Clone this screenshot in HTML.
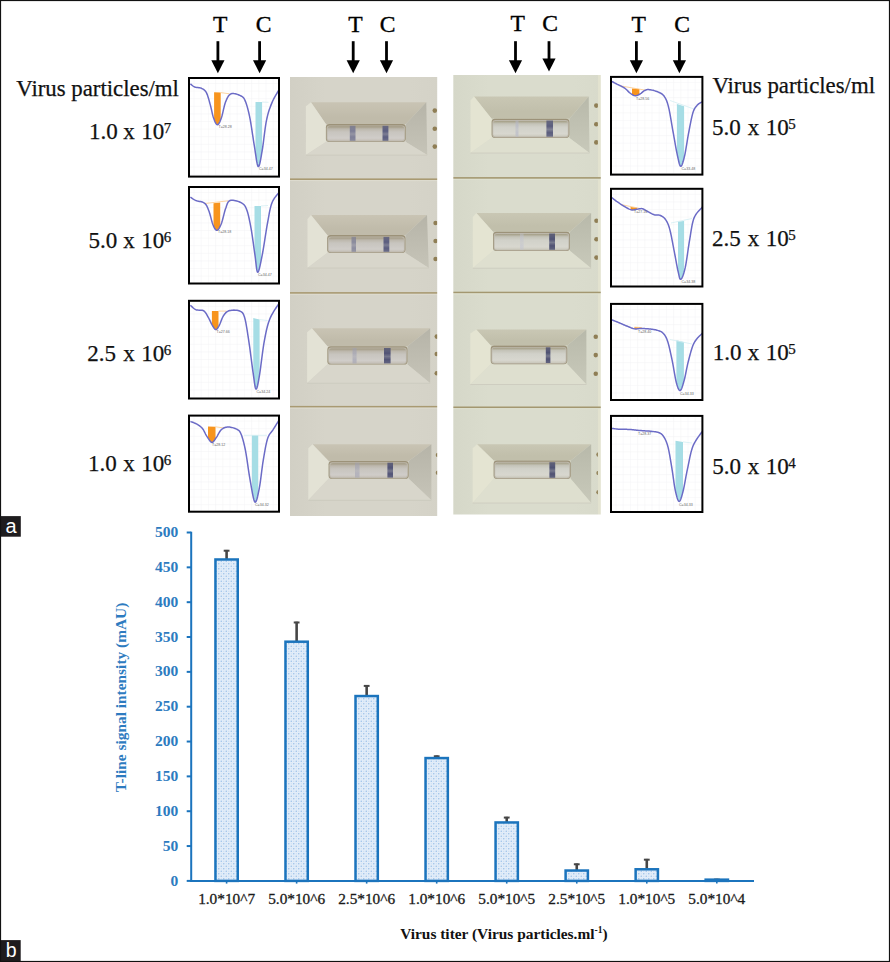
<!DOCTYPE html>
<html><head><meta charset="utf-8"><style>
html,body{margin:0;padding:0;background:#fff;}
body{width:890px;height:962px;overflow:hidden;font-family:"Liberation Serif",serif;}
svg{display:block;}
</style></head><body>
<svg width="890" height="962" viewBox="0 0 890 962" font-family="Liberation Serif">
<defs><filter id="soft" x="-5%" y="-5%" width="110%" height="110%"><feGaussianBlur stdDeviation="0.55"/></filter></defs>
<rect width="890" height="962" fill="#fff"/>
<clipPath id="colclip1"><rect x="290" y="77" width="147.2" height="439"/></clipPath>
<linearGradient id="body1" x1="0" y1="0" x2="1" y2="0"><stop offset="0" stop-color="#d1cfc4"/><stop offset="0.25" stop-color="#d6d4c9"/><stop offset="0.8" stop-color="#d6d4c9"/><stop offset="1" stop-color="#d4d2c7"/></linearGradient>
<g clip-path="url(#colclip1)"><g filter="url(#soft)">
<rect x="287" y="74" width="153.2" height="445" fill="url(#body1)"/>
<linearGradient id="g1_0t" x1="0" y1="0" x2="0" y2="1"><stop offset="0" stop-color="#c9c4b4"/><stop offset="0.7" stop-color="#c0bbaa"/><stop offset="1" stop-color="#c0bbaa"/></linearGradient>
<linearGradient id="g1_0r" x1="0" y1="0" x2="0" y2="1"><stop offset="0" stop-color="#b6b4a8"/><stop offset="1" stop-color="#c6c4b8"/></linearGradient>
<polygon points="311,102.2 426.3,102.2 405.8,124 325.9,124" fill="url(#g1_0t)"/>
<polygon points="305.9,106.2 311,102.2 325.9,124 325.9,142 305.9,155.1" fill="#e3e2d5"/>
<polygon points="426.3,102.2 427.2,155.1 405.8,142 405.8,124" fill="url(#g1_0r)"/>
<polygon points="305.9,155.1 325.9,142 405.8,142 427.2,155.1" fill="#d8d6cb"/>
<line x1="305.9" y1="155.1" x2="427.2" y2="155.1" stroke="#c9c7bb" stroke-width="1" opacity="0.7"/>
<rect x="325.9" y="124" width="79.9" height="18" rx="3.4" fill="#9c9279"/>
<rect x="326.6" y="125.4" width="78.5" height="16.1" rx="3" fill="#bdb8ab"/>
<linearGradient id="g1_0w" x1="0" y1="0" x2="0" y2="1"><stop offset="0" stop-color="#a0977f"/><stop offset="0.18" stop-color="#bcb7ac"/><stop offset="0.4" stop-color="#c8c5bf"/><stop offset="0.6" stop-color="#cbc8c3"/><stop offset="0.82" stop-color="#d0cdc9"/><stop offset="1" stop-color="#c4bfb6"/></linearGradient>
<rect x="327.5" y="126.3" width="76.7" height="14.4" rx="2.4" fill="url(#g1_0w)"/>
<linearGradient id="g1_0T" x1="0" y1="0" x2="0" y2="1"><stop offset="0" stop-color="#70728f" stop-opacity="0.68"/><stop offset="0.35" stop-color="#70728f" stop-opacity="0.85"/><stop offset="0.55" stop-color="#70728f" stop-opacity="0.595"/><stop offset="0.75" stop-color="#70728f" stop-opacity="0.85"/><stop offset="1" stop-color="#70728f" stop-opacity="0.7224999999999999"/></linearGradient>
<rect x="349.8" y="125.8" width="5.7" height="15" fill="url(#g1_0T)"/>
<linearGradient id="g1_0C" x1="0" y1="0" x2="0" y2="1"><stop offset="0" stop-color="#55587c" stop-opacity="0.76"/><stop offset="0.35" stop-color="#55587c" stop-opacity="0.95"/><stop offset="0.55" stop-color="#55587c" stop-opacity="0.6649999999999999"/><stop offset="0.75" stop-color="#55587c" stop-opacity="0.95"/><stop offset="1" stop-color="#55587c" stop-opacity="0.8075"/></linearGradient>
<rect x="382.5" y="125.8" width="5.9" height="15" fill="url(#g1_0C)"/>
<circle cx="434.8" cy="110.6" r="2.3" fill="#8f7e55"/>
<circle cx="434.8" cy="128.8" r="2.3" fill="#8f7e55"/>
<circle cx="434.8" cy="146.6" r="2.3" fill="#8f7e55"/>
<linearGradient id="g1_1t" x1="0" y1="0" x2="0" y2="1"><stop offset="0" stop-color="#c9c4b4"/><stop offset="0.7" stop-color="#c0bbaa"/><stop offset="1" stop-color="#c0bbaa"/></linearGradient>
<linearGradient id="g1_1r" x1="0" y1="0" x2="0" y2="1"><stop offset="0" stop-color="#b6b4a8"/><stop offset="1" stop-color="#c6c4b8"/></linearGradient>
<polygon points="311,215 427,215 405.5,235.1 327.2,235.1" fill="url(#g1_1t)"/>
<polygon points="307.5,219 311,215 327.2,235.1 327.2,253 307.5,268" fill="#e3e2d5"/>
<polygon points="427,215 428.8,268 405.5,253 405.5,235.1" fill="url(#g1_1r)"/>
<polygon points="307.5,268 327.2,253 405.5,253 428.8,268" fill="#d8d6cb"/>
<line x1="307.5" y1="268" x2="428.8" y2="268" stroke="#c9c7bb" stroke-width="1" opacity="0.7"/>
<rect x="327.2" y="235.1" width="78.3" height="17.9" rx="3.4" fill="#9c9279"/>
<rect x="327.9" y="236.5" width="76.9" height="16" rx="3" fill="#bdb8ab"/>
<linearGradient id="g1_1w" x1="0" y1="0" x2="0" y2="1"><stop offset="0" stop-color="#a0977f"/><stop offset="0.18" stop-color="#bcb7ac"/><stop offset="0.4" stop-color="#c8c5bf"/><stop offset="0.6" stop-color="#cbc8c3"/><stop offset="0.82" stop-color="#d0cdc9"/><stop offset="1" stop-color="#c4bfb6"/></linearGradient>
<rect x="328.8" y="237.4" width="75.1" height="14.3" rx="2.4" fill="url(#g1_1w)"/>
<linearGradient id="g1_1T" x1="0" y1="0" x2="0" y2="1"><stop offset="0" stop-color="#777993" stop-opacity="0.6000000000000001"/><stop offset="0.35" stop-color="#777993" stop-opacity="0.75"/><stop offset="0.55" stop-color="#777993" stop-opacity="0.5249999999999999"/><stop offset="0.75" stop-color="#777993" stop-opacity="0.75"/><stop offset="1" stop-color="#777993" stop-opacity="0.6375"/></linearGradient>
<rect x="351.5" y="236.9" width="4.5" height="14.9" fill="url(#g1_1T)"/>
<linearGradient id="g1_1C" x1="0" y1="0" x2="0" y2="1"><stop offset="0" stop-color="#55587c" stop-opacity="0.76"/><stop offset="0.35" stop-color="#55587c" stop-opacity="0.95"/><stop offset="0.55" stop-color="#55587c" stop-opacity="0.6649999999999999"/><stop offset="0.75" stop-color="#55587c" stop-opacity="0.95"/><stop offset="1" stop-color="#55587c" stop-opacity="0.8075"/></linearGradient>
<rect x="383.5" y="236.9" width="5.8" height="14.9" fill="url(#g1_1C)"/>
<circle cx="435.6" cy="223" r="2.3" fill="#8f7e55"/>
<circle cx="435.6" cy="241" r="2.3" fill="#8f7e55"/>
<circle cx="435.6" cy="259" r="2.3" fill="#8f7e55"/>
<linearGradient id="g1_2t" x1="0" y1="0" x2="0" y2="1"><stop offset="0" stop-color="#c9c4b4"/><stop offset="0.7" stop-color="#c0bbaa"/><stop offset="1" stop-color="#c0bbaa"/></linearGradient>
<linearGradient id="g1_2r" x1="0" y1="0" x2="0" y2="1"><stop offset="0" stop-color="#b6b4a8"/><stop offset="1" stop-color="#c6c4b8"/></linearGradient>
<polygon points="311.9,328.2 430.2,328.2 407.5,346.2 327.4,346.2" fill="url(#g1_2t)"/>
<polygon points="307.1,332.2 311.9,328.2 327.4,346.2 327.4,364.6 307.1,383.2" fill="#e3e2d5"/>
<polygon points="430.2,328.2 430.2,383.2 407.5,364.6 407.5,346.2" fill="url(#g1_2r)"/>
<polygon points="307.1,383.2 327.4,364.6 407.5,364.6 430.2,383.2" fill="#d8d6cb"/>
<line x1="307.1" y1="383.2" x2="430.2" y2="383.2" stroke="#c9c7bb" stroke-width="1" opacity="0.7"/>
<rect x="327.4" y="346.2" width="80.1" height="18.4" rx="3.4" fill="#9c9279"/>
<rect x="328.1" y="347.6" width="78.7" height="16.5" rx="3" fill="#bdb8ab"/>
<linearGradient id="g1_2w" x1="0" y1="0" x2="0" y2="1"><stop offset="0" stop-color="#a0977f"/><stop offset="0.18" stop-color="#bcb7ac"/><stop offset="0.4" stop-color="#c8c5bf"/><stop offset="0.6" stop-color="#cbc8c3"/><stop offset="0.82" stop-color="#d0cdc9"/><stop offset="1" stop-color="#c4bfb6"/></linearGradient>
<rect x="329" y="348.5" width="76.9" height="14.8" rx="2.4" fill="url(#g1_2w)"/>
<linearGradient id="g1_2T" x1="0" y1="0" x2="0" y2="1"><stop offset="0" stop-color="#9e9fb3" stop-opacity="0.48"/><stop offset="0.35" stop-color="#9e9fb3" stop-opacity="0.6"/><stop offset="0.55" stop-color="#9e9fb3" stop-opacity="0.42"/><stop offset="0.75" stop-color="#9e9fb3" stop-opacity="0.6"/><stop offset="1" stop-color="#9e9fb3" stop-opacity="0.51"/></linearGradient>
<rect x="352.5" y="348" width="4.1" height="15.4" fill="url(#g1_2T)"/>
<linearGradient id="g1_2C" x1="0" y1="0" x2="0" y2="1"><stop offset="0" stop-color="#4b4e72" stop-opacity="0.76"/><stop offset="0.35" stop-color="#4b4e72" stop-opacity="0.95"/><stop offset="0.55" stop-color="#4b4e72" stop-opacity="0.6649999999999999"/><stop offset="0.75" stop-color="#4b4e72" stop-opacity="0.95"/><stop offset="1" stop-color="#4b4e72" stop-opacity="0.8075"/></linearGradient>
<rect x="384" y="348" width="6.6" height="15.4" fill="url(#g1_2C)"/>
<circle cx="436.8" cy="336.6" r="2.3" fill="#8f7e55"/>
<circle cx="436.8" cy="354" r="2.3" fill="#8f7e55"/>
<circle cx="436.8" cy="373.2" r="2.3" fill="#8f7e55"/>
<linearGradient id="g1_3t" x1="0" y1="0" x2="0" y2="1"><stop offset="0" stop-color="#c9c4b4"/><stop offset="0.7" stop-color="#c0bbaa"/><stop offset="1" stop-color="#c0bbaa"/></linearGradient>
<linearGradient id="g1_3r" x1="0" y1="0" x2="0" y2="1"><stop offset="0" stop-color="#b6b4a8"/><stop offset="1" stop-color="#c6c4b8"/></linearGradient>
<polygon points="312.5,444.2 431.4,444.2 408.7,460.9 328.6,460.9" fill="url(#g1_3t)"/>
<polygon points="308.3,448.2 312.5,444.2 328.6,460.9 328.6,478.8 308.3,500.3" fill="#e3e2d5"/>
<polygon points="431.4,444.2 431.4,500.3 408.7,478.8 408.7,460.9" fill="url(#g1_3r)"/>
<polygon points="308.3,500.3 328.6,478.8 408.7,478.8 431.4,500.3" fill="#d8d6cb"/>
<line x1="308.3" y1="500.3" x2="431.4" y2="500.3" stroke="#c9c7bb" stroke-width="1" opacity="0.7"/>
<rect x="328.6" y="460.9" width="80.1" height="17.9" rx="3.4" fill="#9c9279"/>
<rect x="329.3" y="462.3" width="78.7" height="16" rx="3" fill="#bdb8ab"/>
<linearGradient id="g1_3w" x1="0" y1="0" x2="0" y2="1"><stop offset="0" stop-color="#a0977f"/><stop offset="0.18" stop-color="#bcb7ac"/><stop offset="0.4" stop-color="#c8c5bf"/><stop offset="0.6" stop-color="#cbc8c3"/><stop offset="0.82" stop-color="#d0cdc9"/><stop offset="1" stop-color="#c4bfb6"/></linearGradient>
<rect x="330.2" y="463.2" width="76.9" height="14.3" rx="2.4" fill="url(#g1_3w)"/>
<linearGradient id="g1_3T" x1="0" y1="0" x2="0" y2="1"><stop offset="0" stop-color="#9e9fb3" stop-opacity="0.44000000000000006"/><stop offset="0.35" stop-color="#9e9fb3" stop-opacity="0.55"/><stop offset="0.55" stop-color="#9e9fb3" stop-opacity="0.385"/><stop offset="0.75" stop-color="#9e9fb3" stop-opacity="0.55"/><stop offset="1" stop-color="#9e9fb3" stop-opacity="0.4675"/></linearGradient>
<rect x="355" y="462.7" width="4.5" height="14.9" fill="url(#g1_3T)"/>
<linearGradient id="g1_3C" x1="0" y1="0" x2="0" y2="1"><stop offset="0" stop-color="#4b4e72" stop-opacity="0.76"/><stop offset="0.35" stop-color="#4b4e72" stop-opacity="0.95"/><stop offset="0.55" stop-color="#4b4e72" stop-opacity="0.6649999999999999"/><stop offset="0.75" stop-color="#4b4e72" stop-opacity="0.95"/><stop offset="1" stop-color="#4b4e72" stop-opacity="0.8075"/></linearGradient>
<rect x="387.4" y="462.7" width="5.6" height="14.9" fill="url(#g1_3C)"/>
<circle cx="438" cy="455" r="2.3" fill="#8f7e55"/>
<circle cx="438" cy="472.8" r="2.3" fill="#8f7e55"/>
<rect x="287" y="178.4" width="153.2" height="1.8" fill="#a99a72"/>
<rect x="287" y="180.05" width="153.2" height="1" fill="#dedcd0"/>
<rect x="287" y="292.1" width="153.2" height="1.8" fill="#a99a72"/>
<rect x="287" y="293.75" width="153.2" height="1" fill="#dedcd0"/>
<rect x="287" y="405.9" width="153.2" height="1.8" fill="#a99a72"/>
<rect x="287" y="407.55" width="153.2" height="1" fill="#dedcd0"/>
</g></g>
<clipPath id="colclip2"><rect x="453.3" y="75" width="147.5" height="439.5"/></clipPath>
<linearGradient id="body2" x1="0" y1="0" x2="1" y2="0"><stop offset="0" stop-color="#d5d7c8"/><stop offset="0.25" stop-color="#dadccd"/><stop offset="0.8" stop-color="#dadccd"/><stop offset="1" stop-color="#d8dacb"/></linearGradient>
<g clip-path="url(#colclip2)"><g filter="url(#soft)">
<rect x="450.3" y="72" width="153.5" height="445.5" fill="url(#body2)"/>
<linearGradient id="g2_0t" x1="0" y1="0" x2="0" y2="1"><stop offset="0" stop-color="#c9c7b4"/><stop offset="0.7" stop-color="#c1bfab"/><stop offset="1" stop-color="#c1bfab"/></linearGradient>
<linearGradient id="g2_0r" x1="0" y1="0" x2="0" y2="1"><stop offset="0" stop-color="#b8b9aa"/><stop offset="1" stop-color="#c8c9ba"/></linearGradient>
<polygon points="474,96.4 588.7,96.4 569.4,118.7 491.6,118.7" fill="url(#g2_0t)"/>
<polygon points="470.5,100.4 474,96.4 491.6,118.7 491.6,137.9 470.5,153" fill="#e4e4d2"/>
<polygon points="588.7,96.4 589.5,153 569.4,137.9 569.4,118.7" fill="url(#g2_0r)"/>
<polygon points="470.5,153 491.6,137.9 569.4,137.9 589.5,153" fill="#dedfcf"/>
<line x1="470.5" y1="153" x2="589.5" y2="153" stroke="#c9c7bb" stroke-width="1" opacity="0.7"/>
<rect x="491.6" y="118.7" width="77.8" height="19.2" rx="3.4" fill="#9c9279"/>
<rect x="492.3" y="120.1" width="76.4" height="17.3" rx="3" fill="#bdb8ab"/>
<linearGradient id="g2_0w" x1="0" y1="0" x2="0" y2="1"><stop offset="0" stop-color="#a39d84"/><stop offset="0.18" stop-color="#c4c3b8"/><stop offset="0.4" stop-color="#d1d1c9"/><stop offset="0.6" stop-color="#d4d4cc"/><stop offset="0.82" stop-color="#d8d7cf"/><stop offset="1" stop-color="#cac8bc"/></linearGradient>
<rect x="493.2" y="121" width="74.6" height="15.6" rx="2.4" fill="url(#g2_0w)"/>
<linearGradient id="g2_0T" x1="0" y1="0" x2="0" y2="1"><stop offset="0" stop-color="#b4b7c8" stop-opacity="0.48"/><stop offset="0.35" stop-color="#b4b7c8" stop-opacity="0.6"/><stop offset="0.55" stop-color="#b4b7c8" stop-opacity="0.42"/><stop offset="0.75" stop-color="#b4b7c8" stop-opacity="0.6"/><stop offset="1" stop-color="#b4b7c8" stop-opacity="0.51"/></linearGradient>
<rect x="515.5" y="120.5" width="3" height="16.2" fill="url(#g2_0T)"/>
<linearGradient id="g2_0C" x1="0" y1="0" x2="0" y2="1"><stop offset="0" stop-color="#505376" stop-opacity="0.7360000000000001"/><stop offset="0.35" stop-color="#505376" stop-opacity="0.92"/><stop offset="0.55" stop-color="#505376" stop-opacity="0.644"/><stop offset="0.75" stop-color="#505376" stop-opacity="0.92"/><stop offset="1" stop-color="#505376" stop-opacity="0.782"/></linearGradient>
<rect x="546.4" y="120.5" width="6.6" height="16.2" fill="url(#g2_0C)"/>
<circle cx="596.3" cy="105.6" r="2.3" fill="#8f7e55"/>
<circle cx="596.3" cy="124.2" r="2.3" fill="#8f7e55"/>
<circle cx="596.3" cy="142.4" r="2.3" fill="#8f7e55"/>
<linearGradient id="g2_1t" x1="0" y1="0" x2="0" y2="1"><stop offset="0" stop-color="#c9c7b4"/><stop offset="0.7" stop-color="#c1bfab"/><stop offset="1" stop-color="#c1bfab"/></linearGradient>
<linearGradient id="g2_1r" x1="0" y1="0" x2="0" y2="1"><stop offset="0" stop-color="#b8b9aa"/><stop offset="1" stop-color="#c8c9ba"/></linearGradient>
<polygon points="476.3,212.9 591.1,212.9 570,231.7 493,231.7" fill="url(#g2_1t)"/>
<polygon points="472.8,216.9 476.3,212.9 493,231.7 493,251 472.8,268.2" fill="#e4e4d2"/>
<polygon points="591.1,212.9 591.1,268.2 570,251 570,231.7" fill="url(#g2_1r)"/>
<polygon points="472.8,268.2 493,251 570,251 591.1,268.2" fill="#dedfcf"/>
<line x1="472.8" y1="268.2" x2="591.1" y2="268.2" stroke="#c9c7bb" stroke-width="1" opacity="0.7"/>
<rect x="493" y="231.7" width="77" height="19.3" rx="3.4" fill="#9c9279"/>
<rect x="493.7" y="233.1" width="75.6" height="17.4" rx="3" fill="#bdb8ab"/>
<linearGradient id="g2_1w" x1="0" y1="0" x2="0" y2="1"><stop offset="0" stop-color="#a39d84"/><stop offset="0.18" stop-color="#c4c3b8"/><stop offset="0.4" stop-color="#d1d1c9"/><stop offset="0.6" stop-color="#d4d4cc"/><stop offset="0.82" stop-color="#d8d7cf"/><stop offset="1" stop-color="#cac8bc"/></linearGradient>
<rect x="494.6" y="234" width="73.8" height="15.7" rx="2.4" fill="url(#g2_1w)"/>
<linearGradient id="g2_1T" x1="0" y1="0" x2="0" y2="1"><stop offset="0" stop-color="#c0c2d0" stop-opacity="0.4"/><stop offset="0.35" stop-color="#c0c2d0" stop-opacity="0.5"/><stop offset="0.55" stop-color="#c0c2d0" stop-opacity="0.35"/><stop offset="0.75" stop-color="#c0c2d0" stop-opacity="0.5"/><stop offset="1" stop-color="#c0c2d0" stop-opacity="0.425"/></linearGradient>
<rect x="520" y="233.5" width="3.6" height="16.3" fill="url(#g2_1T)"/>
<linearGradient id="g2_1C" x1="0" y1="0" x2="0" y2="1"><stop offset="0" stop-color="#484b6e" stop-opacity="0.76"/><stop offset="0.35" stop-color="#484b6e" stop-opacity="0.95"/><stop offset="0.55" stop-color="#484b6e" stop-opacity="0.6649999999999999"/><stop offset="0.75" stop-color="#484b6e" stop-opacity="0.95"/><stop offset="1" stop-color="#484b6e" stop-opacity="0.8075"/></linearGradient>
<rect x="549.2" y="233.5" width="5.8" height="16.3" fill="url(#g2_1C)"/>
<circle cx="596.5" cy="220.8" r="2.3" fill="#8f7e55"/>
<circle cx="596.5" cy="239.2" r="2.3" fill="#8f7e55"/>
<circle cx="596.5" cy="257.6" r="2.3" fill="#8f7e55"/>
<linearGradient id="g2_2t" x1="0" y1="0" x2="0" y2="1"><stop offset="0" stop-color="#c9c7b4"/><stop offset="0.7" stop-color="#c1bfab"/><stop offset="1" stop-color="#c1bfab"/></linearGradient>
<linearGradient id="g2_2r" x1="0" y1="0" x2="0" y2="1"><stop offset="0" stop-color="#b8b9aa"/><stop offset="1" stop-color="#c8c9ba"/></linearGradient>
<polygon points="476.3,329.5 586.4,329.5 567.3,345.5 490.7,345.5" fill="url(#g2_2t)"/>
<polygon points="470.3,333.5 476.3,329.5 490.7,345.5 490.7,364.2 470.3,384.5" fill="#e4e4d2"/>
<polygon points="586.4,329.5 586.4,384.5 567.3,364.2 567.3,345.5" fill="url(#g2_2r)"/>
<polygon points="470.3,384.5 490.7,364.2 567.3,364.2 586.4,384.5" fill="#dedfcf"/>
<line x1="470.3" y1="384.5" x2="586.4" y2="384.5" stroke="#c9c7bb" stroke-width="1" opacity="0.7"/>
<rect x="490.7" y="345.5" width="76.6" height="18.7" rx="3.4" fill="#9c9279"/>
<rect x="491.4" y="346.9" width="75.2" height="16.8" rx="3" fill="#bdb8ab"/>
<linearGradient id="g2_2w" x1="0" y1="0" x2="0" y2="1"><stop offset="0" stop-color="#a39d84"/><stop offset="0.18" stop-color="#c4c3b8"/><stop offset="0.4" stop-color="#d1d1c9"/><stop offset="0.6" stop-color="#d4d4cc"/><stop offset="0.82" stop-color="#d8d7cf"/><stop offset="1" stop-color="#cac8bc"/></linearGradient>
<rect x="492.3" y="347.8" width="73.4" height="15.1" rx="2.4" fill="url(#g2_2w)"/>
<linearGradient id="g2_2C" x1="0" y1="0" x2="0" y2="1"><stop offset="0" stop-color="#484b6e" stop-opacity="0.76"/><stop offset="0.35" stop-color="#484b6e" stop-opacity="0.95"/><stop offset="0.55" stop-color="#484b6e" stop-opacity="0.6649999999999999"/><stop offset="0.75" stop-color="#484b6e" stop-opacity="0.95"/><stop offset="1" stop-color="#484b6e" stop-opacity="0.8075"/></linearGradient>
<rect x="545.8" y="347.3" width="4.6" height="15.7" fill="url(#g2_2C)"/>
<circle cx="595.8" cy="336.7" r="2.3" fill="#8f7e55"/>
<circle cx="595.8" cy="355.1" r="2.3" fill="#8f7e55"/>
<circle cx="595.8" cy="373.8" r="2.3" fill="#8f7e55"/>
<linearGradient id="g2_3t" x1="0" y1="0" x2="0" y2="1"><stop offset="0" stop-color="#c9c7b4"/><stop offset="0.7" stop-color="#c1bfab"/><stop offset="1" stop-color="#c1bfab"/></linearGradient>
<linearGradient id="g2_3r" x1="0" y1="0" x2="0" y2="1"><stop offset="0" stop-color="#b8b9aa"/><stop offset="1" stop-color="#c8c9ba"/></linearGradient>
<polygon points="477,444.3 591.2,444.3 570.8,460.4 493.6,460.4" fill="url(#g2_3t)"/>
<polygon points="472.7,448.3 477,444.3 493.6,460.4 493.6,479 472.7,503" fill="#e4e4d2"/>
<polygon points="591.2,444.3 591.2,503 570.8,479 570.8,460.4" fill="url(#g2_3r)"/>
<polygon points="472.7,503 493.6,479 570.8,479 591.2,503" fill="#dedfcf"/>
<line x1="472.7" y1="503" x2="591.2" y2="503" stroke="#c9c7bb" stroke-width="1" opacity="0.7"/>
<rect x="493.6" y="460.4" width="77.2" height="18.6" rx="3.4" fill="#9c9279"/>
<rect x="494.3" y="461.8" width="75.8" height="16.7" rx="3" fill="#bdb8ab"/>
<linearGradient id="g2_3w" x1="0" y1="0" x2="0" y2="1"><stop offset="0" stop-color="#a39d84"/><stop offset="0.18" stop-color="#c4c3b8"/><stop offset="0.4" stop-color="#d1d1c9"/><stop offset="0.6" stop-color="#d4d4cc"/><stop offset="0.82" stop-color="#d8d7cf"/><stop offset="1" stop-color="#cac8bc"/></linearGradient>
<rect x="495.2" y="462.7" width="74" height="15" rx="2.4" fill="url(#g2_3w)"/>
<linearGradient id="g2_3C" x1="0" y1="0" x2="0" y2="1"><stop offset="0" stop-color="#484b6e" stop-opacity="0.76"/><stop offset="0.35" stop-color="#484b6e" stop-opacity="0.95"/><stop offset="0.55" stop-color="#484b6e" stop-opacity="0.6649999999999999"/><stop offset="0.75" stop-color="#484b6e" stop-opacity="0.95"/><stop offset="1" stop-color="#484b6e" stop-opacity="0.8075"/></linearGradient>
<rect x="549.4" y="462.2" width="5.8" height="15.6" fill="url(#g2_3C)"/>
<circle cx="598.6" cy="454.6" r="2.3" fill="#8f7e55"/>
<circle cx="598.6" cy="473" r="2.3" fill="#8f7e55"/>
<circle cx="598.6" cy="492.2" r="2.3" fill="#8f7e55"/>
<rect x="597.9" y="72" width="4" height="445.5" fill="#e2e2cf"/>
<rect x="450.3" y="177.1" width="153.5" height="1.8" fill="#a3976f"/>
<rect x="450.3" y="178.75" width="153.5" height="1" fill="#e0e2d2"/>
<rect x="450.3" y="291.7" width="153.5" height="1.8" fill="#a3976f"/>
<rect x="450.3" y="293.35" width="153.5" height="1" fill="#e0e2d2"/>
<rect x="450.3" y="406.5" width="153.5" height="1.8" fill="#a3976f"/>
<rect x="450.3" y="408.15" width="153.5" height="1" fill="#e0e2d2"/>
</g></g>
<clipPath id="c1957"><rect x="189" y="78" width="90" height="98.6"/></clipPath>
<rect x="188" y="77" width="92" height="100.6" fill="#fff"/>
<g clip-path="url(#c1957)">
<path d="M194 79V175.6M201.2 79V175.6M208.4 79V175.6M215.6 79V175.6M222.8 79V175.6M230 79V175.6M237.2 79V175.6M244.4 79V175.6M251.6 79V175.6M258.8 79V175.6M266 79V175.6M273.2 79V175.6M190 83.5H278M190 91.1H278M190 98.7H278M190 106.3H278M190 113.9H278M190 121.5H278M190 129.1H278M190 136.7H278M190 144.3H278M190 151.9H278M190 159.5H278M190 167.1H278M190 174.7H278" stroke="#f2f2f5" stroke-width="0.5" fill="none"/>
<polygon points="214.1,92.2 220.7,92.6 220.7,119.71 220.15,121.08 219.6,122.28 219.05,123.28 218.5,124.05 217.95,124.52 217.4,124.7 216.85,124.49 216.3,123.97 215.75,123.15 215.2,122.1 214.65,120.86 214.1,119.46" fill="#f7941d"/>
<line x1="220.7" y1="92.6" x2="229.5" y2="93.8" stroke="#fbc98a" stroke-width="0.8"/>
<polygon points="255.5,102.1 262.1,102.1 262.1,151.1 261.69,153.45 261.28,155.84 260.86,158.19 260.45,160.42 260.04,162.44 259.62,164.16 259.21,165.47 258.8,166.31 258.39,166.6 257.98,166.26 257.56,165.25 257.15,163.64 256.74,161.53 256.32,159.06 255.91,156.33 255.5,153.48" fill="#a6dde5"/>
<line x1="262.1" y1="102.1" x2="268.5" y2="102.3" stroke="#d4eef2" stroke-width="0.8"/>
<polyline points="190.4,83.9 190.65,84.09 190.96,84.35 191.33,84.66 191.74,85 192.19,85.37 192.67,85.74 193.18,86.1 193.71,86.45 194.25,86.75 194.8,87 195.38,87.19 196,87.33 196.67,87.42 197.36,87.5 198.06,87.57 198.77,87.64 199.47,87.74 200.15,87.87 200.79,88.05 201.4,88.3 201.97,88.58 202.52,88.86 203.05,89.15 203.57,89.46 204.07,89.82 204.56,90.23 205.03,90.71 205.5,91.27 205.95,91.93 206.4,92.7 206.84,93.6 207.26,94.62 207.67,95.76 208.07,96.97 208.46,98.25 208.84,99.57 209.21,100.92 209.58,102.27 209.94,103.6 210.3,104.9 210.65,106.21 210.99,107.58 211.32,108.99 211.64,110.42 211.96,111.85 212.27,113.25 212.59,114.59 212.92,115.87 213.25,117.04 213.6,118.1 213.96,119.09 214.33,120.05 214.7,120.98 215.08,121.85 215.46,122.64 215.85,123.33 216.24,123.9 216.63,124.33 217.01,124.6 217.4,124.7 217.78,124.62 218.17,124.38 218.55,124 218.93,123.49 219.31,122.84 219.7,122.09 220.09,121.22 220.49,120.26 220.89,119.22 221.3,118.1 221.71,116.81 222.13,115.29 222.55,113.6 222.97,111.8 223.4,109.92 223.84,108.05 224.28,106.22 224.74,104.5 225.21,102.94 225.7,101.6 226.19,100.42 226.66,99.32 227.13,98.31 227.61,97.37 228.11,96.53 228.63,95.78 229.19,95.13 229.8,94.58 230.47,94.14 231.2,93.8 232.04,93.6 232.99,93.55 234.02,93.62 235.11,93.8 236.22,94.06 237.32,94.4 238.4,94.78 239.4,95.18 240.31,95.6 241.1,96 241.76,96.37 242.33,96.73 242.82,97.09 243.26,97.47 243.64,97.91 244,98.41 244.35,99.01 244.71,99.73 245.08,100.58 245.5,101.6 245.94,102.76 246.38,104.03 246.82,105.4 247.26,106.89 247.7,108.48 248.14,110.18 248.58,112 249.02,113.92 249.46,115.96 249.9,118.1 250.34,120.43 250.79,123 251.24,125.75 251.68,128.62 252.13,131.57 252.58,134.54 253.02,137.48 253.45,140.34 253.88,143.06 254.3,145.6 254.71,148.13 255.11,150.8 255.51,153.53 255.9,156.22 256.28,158.79 256.66,161.14 257.05,163.19 257.43,164.84 257.81,166.01 258.2,166.6 258.59,166.6 258.97,166.08 259.35,165.11 259.74,163.76 260.12,162.09 260.5,160.15 260.89,158.02 261.29,155.76 261.69,153.43 262.1,151.1 262.51,148.58 262.93,145.71 263.35,142.57 263.77,139.25 264.2,135.84 264.64,132.41 265.08,129.06 265.54,125.87 266.01,122.92 266.5,120.3 267,117.98 267.5,115.85 268.02,113.89 268.54,112.06 269.08,110.35 269.62,108.73 270.19,107.17 270.77,105.64 271.38,104.13 272,102.6 272.68,101.04 273.45,99.46 274.26,97.89 275.1,96.36 275.94,94.89 276.76,93.51 277.52,92.25 278.19,91.12 278.76,90.17 279.2,89.4" fill="none" stroke="#6b6bc6" stroke-width="1.5" stroke-linejoin="round"/>
<text x="218.5" y="127.5" font-size="3.6" fill="#666" font-family="Liberation Sans">T=28.28</text>
<text x="259" y="170" font-size="3.6" fill="#666" font-family="Liberation Sans">C=34.47</text>
</g>
<rect x="189" y="78" width="90" height="98.6" fill="none" stroke="#000" stroke-width="2"/>
<clipPath id="c2066"><rect x="189" y="187" width="90" height="96.5"/></clipPath>
<rect x="188" y="186" width="92" height="98.5" fill="#fff"/>
<g clip-path="url(#c2066)">
<path d="M194 188V282.5M201.2 188V282.5M208.4 188V282.5M215.6 188V282.5M222.8 188V282.5M230 188V282.5M237.2 188V282.5M244.4 188V282.5M251.6 188V282.5M258.8 188V282.5M266 188V282.5M273.2 188V282.5M190 192.5H278M190 200.1H278M190 207.7H278M190 215.3H278M190 222.9H278M190 230.5H278M190 238.1H278M190 245.7H278M190 253.3H278M190 260.9H278M190 268.5H278M190 276.1H278" stroke="#f2f2f5" stroke-width="0.5" fill="none"/>
<polygon points="213.5,203.2 220.2,202.6 220.2,226.22 219.64,227.32 219.08,228.28 218.52,229.07 217.97,229.69 217.41,230.11 216.85,230.3 216.29,230.19 215.73,229.81 215.18,229.16 214.62,228.27 214.06,227.19 213.5,225.97" fill="#f7941d"/>
<line x1="205" y1="203.5" x2="228" y2="200.8" stroke="#fbc98a" stroke-width="0.8"/>
<polygon points="254.5,206 261,206 261,261.22 260.59,263.2 260.19,265.12 259.78,266.9 259.38,268.52 258.97,269.94 258.56,271.08 258.16,271.86 257.75,272.17 257.34,271.82 256.94,270.46 256.53,268.13 256.12,264.82 255.72,261.15 255.31,257.66 254.91,254.64 254.5,251.87" fill="#a6dde5"/>
<line x1="261" y1="206" x2="268" y2="205.5" stroke="#d4eef2" stroke-width="0.8"/>
<polyline points="190.4,197.2 190.71,197.4 191.1,197.66 191.54,197.96 192.05,198.31 192.6,198.67 193.2,199.06 193.83,199.44 194.5,199.82 195.19,200.18 195.9,200.5 196.67,200.78 197.52,201 198.44,201.2 199.39,201.39 200.37,201.59 201.34,201.81 202.28,202.07 203.17,202.4 203.98,202.8 204.7,203.3 205.32,203.89 205.87,204.53 206.36,205.23 206.8,205.99 207.21,206.8 207.59,207.66 207.96,208.58 208.32,209.54 208.7,210.55 209.1,211.6 209.51,212.76 209.91,214.05 210.31,215.44 210.7,216.9 211.08,218.38 211.46,219.84 211.85,221.25 212.23,222.57 212.61,223.77 213,224.8 213.39,225.72 213.77,226.59 214.15,227.4 214.54,228.14 214.92,228.79 215.3,229.34 215.69,229.78 216.09,230.1 216.49,230.27 216.9,230.3 217.32,230.17 217.75,229.9 218.18,229.49 218.62,228.95 219.07,228.31 219.52,227.55 219.96,226.71 220.41,225.78 220.86,224.77 221.3,223.7 221.74,222.48 222.18,221.06 222.62,219.49 223.06,217.81 223.5,216.07 223.94,214.34 224.38,212.64 224.82,211.03 225.26,209.57 225.7,208.3 226.11,207.17 226.47,206.09 226.81,205.09 227.14,204.15 227.49,203.3 227.86,202.54 228.29,201.87 228.8,201.3 229.39,200.84 230.1,200.5 230.96,200.29 231.97,200.23 233.09,200.28 234.29,200.44 235.53,200.69 236.78,201.02 238,201.39 239.15,201.81 240.19,202.25 241.1,202.7 241.88,203.13 242.57,203.56 243.19,204 243.75,204.48 244.26,205.02 244.74,205.64 245.2,206.37 245.66,207.22 246.12,208.22 246.6,209.4 247.09,210.75 247.56,212.25 248.02,213.88 248.46,215.64 248.9,217.51 249.33,219.48 249.75,221.54 250.17,223.67 250.59,225.86 251,228.1 251.42,230.47 251.83,233.04 252.24,235.76 252.65,238.57 253.05,241.42 253.44,244.27 253.83,247.06 254.2,249.74 254.56,252.28 254.9,254.6 255.22,256.87 255.5,259.24 255.77,261.61 256.02,263.92 256.27,266.09 256.52,268.04 256.78,269.71 257.06,271 257.36,271.86 257.7,272.2 258.07,272.01 258.46,271.35 258.87,270.28 259.29,268.85 259.73,267.12 260.18,265.13 260.65,262.94 261.12,260.61 261.61,258.18 262.1,255.7 262.61,253 263.15,249.93 263.7,246.57 264.27,243.02 264.85,239.36 265.43,235.69 266,232.08 266.55,228.64 267.09,225.45 267.6,222.6 268.07,220.03 268.51,217.62 268.91,215.36 269.3,213.23 269.69,211.23 270.09,209.34 270.51,207.56 270.96,205.86 271.45,204.25 272,202.7 272.64,201.23 273.38,199.85 274.18,198.55 275.02,197.36 275.88,196.26 276.7,195.26 277.48,194.36 278.18,193.56 278.76,192.88 279.2,192.3" fill="none" stroke="#6b6bc6" stroke-width="1.5" stroke-linejoin="round"/>
<text x="218" y="233" font-size="3.6" fill="#666" font-family="Liberation Sans">T=28.18</text>
<text x="258" y="275.5" font-size="3.6" fill="#666" font-family="Liberation Sans">C=34.47</text>
</g>
<rect x="189" y="187" width="90" height="96.5" fill="none" stroke="#000" stroke-width="2"/>
<clipPath id="c2179"><rect x="189" y="300.8" width="90" height="97.7"/></clipPath>
<rect x="188" y="299.8" width="92" height="99.7" fill="#fff"/>
<g clip-path="url(#c2179)">
<path d="M194 301.8V397.5M201.2 301.8V397.5M208.4 301.8V397.5M215.6 301.8V397.5M222.8 301.8V397.5M230 301.8V397.5M237.2 301.8V397.5M244.4 301.8V397.5M251.6 301.8V397.5M258.8 301.8V397.5M266 301.8V397.5M273.2 301.8V397.5M190 306.3H278M190 313.9H278M190 321.5H278M190 329.1H278M190 336.7H278M190 344.3H278M190 351.9H278M190 359.5H278M190 367.1H278M190 374.7H278M190 382.3H278M190 389.9H278" stroke="#f2f2f5" stroke-width="0.5" fill="none"/>
<polygon points="211.9,311.1 218.5,311.1 218.5,326.75 217.95,327.65 217.4,328.44 216.85,329.03 216.3,329.38 215.75,329.49 215.2,329.33 214.65,328.88 214.1,328.22 213.55,327.41 213,326.52 212.45,325.61 211.9,324.63" fill="#f7941d"/>
<line x1="218.5" y1="311.1" x2="226.5" y2="311.1" stroke="#fbc98a" stroke-width="0.8"/>
<polygon points="253.3,318 259.6,319.6 259.6,374.53 259.21,376.94 258.81,379.19 258.42,381.38 258.03,383.45 257.63,385.32 257.24,386.93 256.84,388.14 256.45,388.86 256.06,389.09 255.66,388.69 255.27,387.48 254.88,385.45 254.48,382.8 254.09,379.85 253.69,376.94 253.3,374.2" fill="#a6dde5"/>
<line x1="259.6" y1="319.6" x2="267.5" y2="320.5" stroke="#d4eef2" stroke-width="0.8"/>
<polyline points="190.4,305.3 190.72,305.58 191.11,305.95 191.58,306.4 192.1,306.9 192.67,307.43 193.28,307.97 193.92,308.48 194.57,308.96 195.24,309.37 195.9,309.7 196.6,309.92 197.35,310.05 198.15,310.12 198.98,310.14 199.82,310.15 200.65,310.17 201.46,310.21 202.24,310.32 202.95,310.51 203.6,310.8 204.17,311.19 204.69,311.64 205.16,312.15 205.59,312.71 206,313.31 206.39,313.96 206.78,314.63 207.17,315.34 207.57,316.06 208,316.8 208.45,317.6 208.91,318.48 209.38,319.42 209.85,320.4 210.32,321.39 210.78,322.37 211.24,323.31 211.68,324.2 212.1,325 212.5,325.7 212.88,326.32 213.24,326.91 213.58,327.45 213.91,327.95 214.22,328.39 214.54,328.77 214.85,329.08 215.16,329.31 215.48,329.45 215.8,329.5 216.13,329.46 216.44,329.33 216.76,329.11 217.07,328.82 217.38,328.46 217.7,328.03 218.03,327.54 218.37,326.98 218.73,326.37 219.1,325.7 219.49,324.93 219.89,324.02 220.3,323 220.73,321.9 221.16,320.77 221.61,319.63 222.06,318.52 222.53,317.47 223.01,316.52 223.5,315.7 223.99,314.98 224.46,314.32 224.93,313.7 225.41,313.14 225.91,312.63 226.43,312.16 226.99,311.75 227.6,311.38 228.27,311.07 229,310.8 229.83,310.57 230.77,310.39 231.79,310.25 232.85,310.16 233.95,310.12 235.05,310.13 236.11,310.2 237.13,310.34 238.07,310.53 238.9,310.8 239.63,311.07 240.3,311.32 240.91,311.58 241.47,311.89 241.99,312.28 242.49,312.79 242.97,313.47 243.44,314.33 243.91,315.43 244.4,316.8 244.88,318.45 245.35,320.35 245.8,322.47 246.23,324.78 246.66,327.26 247.09,329.87 247.51,332.59 247.93,335.38 248.36,338.23 248.8,341.1 249.25,344.14 249.72,347.45 250.2,350.96 250.68,354.58 251.16,358.24 251.62,361.85 252.08,365.33 252.51,368.6 252.92,371.59 253.3,374.2 253.64,376.55 253.95,378.79 254.22,380.88 254.48,382.8 254.73,384.51 254.96,386 255.2,387.23 255.45,388.18 255.71,388.81 256,389.1 256.3,389.05 256.59,388.69 256.89,388.03 257.2,387.09 257.51,385.89 257.83,384.43 258.17,382.74 258.52,380.83 258.9,378.71 259.3,376.4 259.73,373.73 260.18,370.58 260.66,367.06 261.15,363.27 261.66,359.34 262.18,355.35 262.71,351.43 263.24,347.68 263.77,344.2 264.3,341.1 264.81,338.33 265.31,335.74 265.79,333.3 266.28,331.01 266.77,328.84 267.3,326.76 267.85,324.76 268.44,322.81 269.09,320.9 269.8,319 270.62,317.09 271.58,315.17 272.63,313.27 273.73,311.43 274.84,309.67 275.93,308.02 276.95,306.51 277.86,305.16 278.62,304.02 279.2,303.1" fill="none" stroke="#6b6bc6" stroke-width="1.5" stroke-linejoin="round"/>
<text x="216.5" y="332.5" font-size="3.6" fill="#666" font-family="Liberation Sans">T=27.66</text>
<text x="256.5" y="393" font-size="3.6" fill="#666" font-family="Liberation Sans">C=34.24</text>
</g>
<rect x="189" y="300.8" width="90" height="97.7" fill="none" stroke="#000" stroke-width="2"/>
<clipPath id="c2294"><rect x="189" y="415.6" width="90" height="96.1"/></clipPath>
<rect x="188" y="414.6" width="92" height="98.1" fill="#fff"/>
<g clip-path="url(#c2294)">
<path d="M194 416.6V510.7M201.2 416.6V510.7M208.4 416.6V510.7M215.6 416.6V510.7M222.8 416.6V510.7M230 416.6V510.7M237.2 416.6V510.7M244.4 416.6V510.7M251.6 416.6V510.7M258.8 416.6V510.7M266 416.6V510.7M273.2 416.6V510.7M190 421.1H278M190 428.7H278M190 436.3H278M190 443.9H278M190 451.5H278M190 459.1H278M190 466.7H278M190 474.3H278M190 481.9H278M190 489.5H278M190 497.1H278M190 504.7H278" stroke="#f2f2f5" stroke-width="0.5" fill="none"/>
<polygon points="208,426.4 215.5,426.8 215.5,438.67 214.88,439.65 214.25,440.59 213.62,441.42 213,442.01 212.38,442.36 211.75,442.35 211.12,442.06 210.5,441.53 209.88,440.82 209.25,439.98 208.62,439.06 208,438.09" fill="#f7941d"/>
<line x1="215.5" y1="426.8" x2="224" y2="428" stroke="#fbc98a" stroke-width="0.8"/>
<polygon points="251.9,435.3 258.2,435.3 258.2,493.69 257.81,495.53 257.41,497.22 257.02,498.73 256.62,500.02 256.23,501.04 255.84,501.76 255.44,502.09 255.05,502.05 254.66,501.61 254.26,500.78 253.87,499.62 253.47,498.16 253.08,496.43 252.69,494.52 252.29,492.47 251.9,490.31" fill="#a6dde5"/>
<line x1="244" y1="435.3" x2="267" y2="435.3" stroke="#d4eef2" stroke-width="0.8"/>
<polyline points="190.4,421.5 190.8,421.65 191.32,421.84 191.93,422.06 192.62,422.3 193.36,422.57 194.12,422.87 194.89,423.18 195.64,423.51 196.35,423.85 197,424.2 197.6,424.56 198.19,424.92 198.77,425.29 199.33,425.67 199.89,426.08 200.43,426.51 200.97,426.98 201.49,427.48 202,428.01 202.5,428.6 202.98,429.25 203.44,429.97 203.88,430.75 204.31,431.56 204.73,432.4 205.15,433.25 205.57,434.09 206,434.9 206.44,435.68 206.9,436.4 207.38,437.12 207.87,437.89 208.37,438.68 208.89,439.45 209.4,440.19 209.91,440.87 210.43,441.46 210.93,441.93 211.42,442.25 211.9,442.4 212.36,442.36 212.81,442.16 213.25,441.82 213.67,441.36 214.1,440.81 214.53,440.19 214.95,439.53 215.39,438.84 215.84,438.16 216.3,437.5 216.77,436.81 217.24,436.04 217.71,435.21 218.18,434.34 218.66,433.46 219.16,432.59 219.66,431.76 220.19,430.98 220.73,430.29 221.3,429.7 221.89,429.2 222.48,428.76 223.09,428.36 223.72,428.02 224.36,427.73 225.02,427.48 225.71,427.29 226.41,427.14 227.14,427.05 227.9,427 228.71,427.01 229.59,427.08 230.52,427.21 231.47,427.39 232.44,427.62 233.39,427.88 234.31,428.18 235.19,428.5 235.99,428.84 236.7,429.2 237.32,429.53 237.86,429.84 238.34,430.13 238.78,430.45 239.17,430.81 239.55,431.24 239.92,431.77 240.29,432.42 240.68,433.22 241.1,434.2 241.54,435.33 241.98,436.57 242.42,437.92 242.86,439.39 243.29,440.97 243.73,442.67 244.17,444.49 244.61,446.44 245.06,448.5 245.5,450.7 245.94,453.1 246.39,455.76 246.83,458.61 247.27,461.59 247.72,464.67 248.17,467.77 248.62,470.85 249.07,473.86 249.53,476.72 250,479.4 250.48,482.07 250.96,484.89 251.46,487.77 251.96,490.63 252.46,493.36 252.96,495.87 253.45,498.09 253.95,499.91 254.43,501.24 254.9,502 255.36,502.16 255.82,501.79 256.27,500.97 256.72,499.76 257.16,498.24 257.6,496.46 258.03,494.5 258.46,492.43 258.88,490.3 259.3,488.2 259.71,485.97 260.1,483.47 260.49,480.76 260.87,477.88 261.25,474.91 261.63,471.9 262.01,468.9 262.4,465.98 262.79,463.2 263.2,460.6 263.61,458.11 264.03,455.63 264.45,453.18 264.87,450.77 265.3,448.43 265.74,446.19 266.18,444.06 266.64,442.07 267.11,440.24 267.6,438.6 268.1,437.18 268.62,436 269.15,435 269.69,434.14 270.24,433.39 270.8,432.7 271.37,432.03 271.94,431.33 272.52,430.57 273.1,429.7 273.71,428.71 274.38,427.63 275.08,426.49 275.79,425.34 276.49,424.19 277.17,423.1 277.8,422.07 278.36,421.16 278.83,420.39 279.2,419.8" fill="none" stroke="#6b6bc6" stroke-width="1.5" stroke-linejoin="round"/>
<text x="212" y="446" font-size="3.6" fill="#666" font-family="Liberation Sans">T=28.12</text>
<text x="255" y="505.5" font-size="3.6" fill="#666" font-family="Liberation Sans">C=34.32</text>
</g>
<rect x="189" y="415.6" width="90" height="96.1" fill="none" stroke="#000" stroke-width="2"/>
<clipPath id="c6175"><rect x="611" y="76.9" width="91.4" height="97.7"/></clipPath>
<rect x="610" y="75.9" width="93.4" height="99.7" fill="#fff"/>
<g clip-path="url(#c6175)">
<path d="M616 77.9V173.6M623.2 77.9V173.6M630.4 77.9V173.6M637.6 77.9V173.6M644.8 77.9V173.6M652 77.9V173.6M659.2 77.9V173.6M666.4 77.9V173.6M673.6 77.9V173.6M680.8 77.9V173.6M688 77.9V173.6M695.2 77.9V173.6M612 82.4H701.4M612 90H701.4M612 97.6H701.4M612 105.2H701.4M612 112.8H701.4M612 120.4H701.4M612 128H701.4M612 135.6H701.4M612 143.2H701.4M612 150.8H701.4M612 158.4H701.4M612 166H701.4M612 173.6H701.4" stroke="#f2f2f5" stroke-width="0.5" fill="none"/>
<polygon points="632,88.5 639.4,89 639.4,94.32 638.78,94.64 638.17,94.95 637.55,95.22 636.93,95.44 636.32,95.6 635.7,95.7 635.08,95.7 634.47,95.61 633.85,95.42 633.23,95.15 632.62,94.82 632,94.43" fill="#f7941d"/>
<line x1="620" y1="85.8" x2="645.5" y2="90.2" stroke="#fbc98a" stroke-width="0.8"/>
<polygon points="676.9,104 684.1,106.2 684.1,157.87 683.65,159.65 683.2,161.31 682.75,162.81 682.3,164.11 681.85,165.15 681.4,165.88 680.95,166.24 680.5,166.18 680.05,165.61 679.6,164.55 679.15,163.05 678.7,161.22 678.25,159.21 677.8,157.16 677.35,155.1 676.9,152.94" fill="#a6dde5"/>
<line x1="670" y1="100.5" x2="694" y2="109" stroke="#d4eef2" stroke-width="0.8"/>
<polyline points="611.9,81.4 612.18,81.56 612.52,81.75 612.92,81.97 613.37,82.23 613.87,82.51 614.4,82.8 614.97,83.12 615.56,83.44 616.17,83.77 616.8,84.1 617.47,84.44 618.2,84.79 618.97,85.15 619.78,85.52 620.61,85.91 621.44,86.3 622.26,86.71 623.06,87.13 623.81,87.56 624.5,88 625.14,88.47 625.75,88.97 626.33,89.49 626.88,90.03 627.42,90.57 627.94,91.11 628.46,91.63 628.97,92.13 629.48,92.59 630,93 630.52,93.38 631.03,93.76 631.54,94.12 632.04,94.46 632.53,94.77 633.02,95.05 633.52,95.29 634.01,95.48 634.5,95.62 635,95.7 635.5,95.72 636.01,95.67 636.52,95.56 637.03,95.41 637.54,95.22 638.04,95.01 638.54,94.77 639.04,94.51 639.52,94.25 640,94 640.46,93.72 640.92,93.41 641.36,93.06 641.8,92.69 642.24,92.31 642.67,91.94 643.1,91.58 643.53,91.24 643.96,90.95 644.4,90.7 644.82,90.49 645.21,90.29 645.58,90.1 645.95,89.94 646.32,89.81 646.72,89.7 647.16,89.62 647.64,89.57 648.18,89.57 648.8,89.6 649.51,89.68 650.31,89.79 651.19,89.94 652.11,90.13 653.06,90.35 654.03,90.6 654.98,90.87 655.91,91.16 656.79,91.47 657.6,91.8 658.36,92.13 659.1,92.45 659.81,92.78 660.5,93.12 661.18,93.5 661.82,93.92 662.45,94.4 663.06,94.95 663.64,95.58 664.2,96.3 664.73,97.08 665.22,97.87 665.68,98.71 666.12,99.6 666.54,100.57 666.95,101.64 667.35,102.83 667.76,104.15 668.17,105.64 668.6,107.3 669.04,109.18 669.48,111.29 669.92,113.59 670.36,116.02 670.79,118.57 671.23,121.18 671.67,123.82 672.11,126.44 672.56,129.02 673,131.5 673.45,133.99 673.91,136.57 674.38,139.22 674.85,141.88 675.32,144.51 675.78,147.07 676.24,149.52 676.68,151.82 677.1,153.93 677.5,155.8 677.88,157.5 678.23,159.12 678.56,160.63 678.88,162 679.19,163.23 679.5,164.27 679.81,165.13 680.13,165.76 680.46,166.16 680.8,166.3 681.16,166.15 681.53,165.73 681.9,165.06 682.28,164.17 682.66,163.09 683.05,161.84 683.44,160.46 683.83,158.98 684.21,157.41 684.6,155.8 684.98,154.05 685.37,152.1 685.75,149.98 686.13,147.74 686.51,145.4 686.9,143.01 687.29,140.61 687.69,138.23 688.09,135.91 688.5,133.7 688.92,131.5 689.35,129.23 689.78,126.93 690.22,124.62 690.67,122.35 691.12,120.15 691.56,118.06 692.01,116.12 692.46,114.35 692.9,112.8 693.34,111.48 693.77,110.34 694.2,109.38 694.63,108.56 695.06,107.85 695.5,107.23 695.94,106.67 696.38,106.15 696.84,105.63 697.3,105.1 697.8,104.58 698.34,104.11 698.91,103.68 699.5,103.3 700.07,102.97 700.63,102.67 701.15,102.41 701.61,102.18 702,101.98 702.3,101.8" fill="none" stroke="#6b6bc6" stroke-width="1.5" stroke-linejoin="round"/>
<text x="636" y="99.5" font-size="3.6" fill="#666" font-family="Liberation Sans">T=28.56</text>
<text x="681.5" y="170" font-size="3.6" fill="#666" font-family="Liberation Sans">C=33.48</text>
</g>
<rect x="611" y="76.9" width="91.4" height="97.7" fill="none" stroke="#000" stroke-width="2"/>
<clipPath id="c6287"><rect x="611" y="188.8" width="91.4" height="97.7"/></clipPath>
<rect x="610" y="187.8" width="93.4" height="99.7" fill="#fff"/>
<g clip-path="url(#c6287)">
<path d="M616 189.8V285.5M623.2 189.8V285.5M630.4 189.8V285.5M637.6 189.8V285.5M644.8 189.8V285.5M652 189.8V285.5M659.2 189.8V285.5M666.4 189.8V285.5M673.6 189.8V285.5M680.8 189.8V285.5M688 189.8V285.5M695.2 189.8V285.5M612 194.3H701.4M612 201.9H701.4M612 209.5H701.4M612 217.1H701.4M612 224.7H701.4M612 232.3H701.4M612 239.9H701.4M612 247.5H701.4M612 255.1H701.4M612 262.7H701.4M612 270.3H701.4M612 277.9H701.4" stroke="#f2f2f5" stroke-width="0.5" fill="none"/>
<polygon points="630.6,207 637.2,207.8 637.2,209.24 636.65,209.31 636.1,209.38 635.55,209.48 635,209.6 634.45,209.71 633.9,209.81 633.35,209.89 632.8,209.94 632.25,209.94 631.7,209.89 631.15,209.79 630.6,209.64" fill="#f7941d"/>
<line x1="621" y1="204.5" x2="640" y2="208.5" stroke="#fbc98a" stroke-width="0.8"/>
<polygon points="678,221.4 684.1,221 684.1,272.04 683.72,273.33 683.34,274.52 682.96,275.59 682.58,276.54 682.19,277.39 681.81,278.11 681.43,278.69 681.05,279.11 680.67,279.31 680.29,279.2 679.91,278.69 679.52,277.67 679.14,276.22 678.76,274.49 678.38,272.7 678,271" fill="#a6dde5"/>
<line x1="671" y1="223" x2="692" y2="218.5" stroke="#d4eef2" stroke-width="0.8"/>
<polyline points="611.9,197.7 612.18,197.92 612.52,198.2 612.92,198.52 613.37,198.89 613.87,199.29 614.4,199.71 614.97,200.15 615.56,200.6 616.17,201.05 616.8,201.5 617.46,201.96 618.18,202.45 618.94,202.97 619.73,203.5 620.54,204.03 621.36,204.56 622.18,205.09 622.98,205.59 623.76,206.06 624.5,206.5 625.22,206.92 625.92,207.33 626.62,207.73 627.31,208.12 627.99,208.49 628.65,208.84 629.31,209.14 629.95,209.41 630.58,209.63 631.2,209.8 631.8,209.9 632.38,209.94 632.94,209.93 633.49,209.88 634.03,209.79 634.56,209.69 635.09,209.58 635.62,209.47 636.16,209.37 636.7,209.3 637.25,209.23 637.8,209.13 638.35,209.02 638.9,208.9 639.45,208.79 640,208.7 640.55,208.63 641.1,208.6 641.65,208.62 642.2,208.7 642.75,208.84 643.28,209.03 643.82,209.27 644.35,209.55 644.88,209.86 645.42,210.18 645.97,210.52 646.53,210.85 647.11,211.18 647.7,211.5 648.32,211.82 648.97,212.17 649.63,212.54 650.31,212.92 651,213.29 651.69,213.66 652.37,214 653.03,214.31 653.68,214.58 654.3,214.8 654.89,214.95 655.47,215.02 656.03,215.05 656.58,215.04 657.12,215.01 657.65,214.99 658.18,214.99 658.72,215.03 659.25,215.12 659.8,215.3 660.35,215.53 660.92,215.77 661.48,216.03 662.05,216.33 662.62,216.66 663.18,217.04 663.73,217.48 664.27,217.98 664.79,218.55 665.3,219.2 665.78,219.89 666.25,220.6 666.7,221.34 667.13,222.14 667.56,223.01 667.99,223.97 668.41,225.04 668.83,226.24 669.26,227.59 669.7,229.1 670.15,230.83 670.6,232.78 671.06,234.91 671.53,237.17 671.99,239.53 672.45,241.94 672.9,244.35 673.34,246.73 673.78,249.03 674.2,251.2 674.61,253.32 675.02,255.49 675.42,257.67 675.82,259.84 676.21,261.96 676.59,264.02 676.96,265.98 677.32,267.81 677.66,269.5 678,271 678.31,272.39 678.6,273.71 678.86,274.96 679.12,276.1 679.36,277.11 679.61,277.96 679.87,278.63 680.15,279.1 680.46,279.33 680.8,279.3 681.18,279.02 681.58,278.51 682,277.79 682.44,276.86 682.9,275.74 683.36,274.45 683.83,272.98 684.29,271.36 684.75,269.6 685.2,267.7 685.64,265.56 686.08,263.11 686.52,260.42 686.96,257.54 687.4,254.55 687.84,251.5 688.28,248.47 688.72,245.52 689.16,242.71 689.6,240.1 690.02,237.62 690.42,235.17 690.8,232.74 691.17,230.37 691.56,228.06 691.96,225.84 692.39,223.72 692.87,221.71 693.4,219.83 694,218.1 694.71,216.5 695.54,215.02 696.46,213.65 697.44,212.38 698.42,211.22 699.39,210.18 700.3,209.24 701.11,208.42 701.79,207.71 702.3,207.1" fill="none" stroke="#6b6bc6" stroke-width="1.5" stroke-linejoin="round"/>
<text x="634" y="213" font-size="3.6" fill="#666" font-family="Liberation Sans">T=27.16</text>
<text x="681.5" y="283" font-size="3.6" fill="#666" font-family="Liberation Sans">C=34.38</text>
</g>
<rect x="611" y="188.8" width="91.4" height="97.7" fill="none" stroke="#000" stroke-width="2"/>
<clipPath id="c6402"><rect x="611" y="303.9" width="91.4" height="96.1"/></clipPath>
<rect x="610" y="302.9" width="93.4" height="98.1" fill="#fff"/>
<g clip-path="url(#c6402)">
<path d="M616 304.9V399M623.2 304.9V399M630.4 304.9V399M637.6 304.9V399M644.8 304.9V399M652 304.9V399M659.2 304.9V399M666.4 304.9V399M673.6 304.9V399M680.8 304.9V399M688 304.9V399M695.2 304.9V399M612 309.4H701.4M612 317H701.4M612 324.6H701.4M612 332.2H701.4M612 339.8H701.4M612 347.4H701.4M612 355H701.4M612 362.6H701.4M612 370.2H701.4M612 377.8H701.4M612 385.4H701.4M612 393H701.4" stroke="#f2f2f5" stroke-width="0.5" fill="none"/>
<polygon points="634.5,327.1 641.6,327.6 641.6,328.51 641.01,328.5 640.42,328.51 639.83,328.55 639.23,328.6 638.64,328.67 638.05,328.75 637.46,328.83 636.87,328.88 636.27,328.92 635.68,328.92 635.09,328.88 634.5,328.8" fill="#f7941d"/>
<line x1="634.5" y1="327.1" x2="641.6" y2="327.6" stroke="#fbc98a" stroke-width="0.8"/>
<polygon points="676.4,340.3 683.9,342 683.9,381.32 683.43,382.99 682.96,384.61 682.49,386.14 682.02,387.51 681.56,388.67 681.09,389.59 680.62,390.23 680.15,390.5 679.68,390.45 679.21,390.11 678.74,389.49 678.27,388.59 677.81,387.42 677.34,386.05 676.87,384.5 676.4,382.8" fill="#a6dde5"/>
<line x1="670" y1="339.5" x2="692" y2="344" stroke="#d4eef2" stroke-width="0.8"/>
<polyline points="611.9,319.9 612.32,320.06 612.86,320.27 613.49,320.52 614.2,320.79 614.97,321.09 615.78,321.41 616.6,321.74 617.43,322.06 618.23,322.39 619,322.7 619.75,323.01 620.5,323.34 621.26,323.67 622.03,324.01 622.81,324.35 623.58,324.69 624.36,325.03 625.14,325.36 625.92,325.69 626.7,326 627.48,326.31 628.27,326.64 629.07,326.97 629.87,327.3 630.67,327.62 631.46,327.93 632.25,328.2 633.02,328.45 633.77,328.65 634.5,328.8 635.2,328.89 635.86,328.93 636.5,328.91 637.12,328.86 637.74,328.79 638.36,328.71 639,328.63 639.66,328.56 640.36,328.51 641.1,328.5 641.9,328.51 642.74,328.53 643.61,328.56 644.51,328.6 645.43,328.64 646.35,328.7 647.27,328.76 648.18,328.83 649.05,328.91 649.9,329 650.72,329.1 651.55,329.2 652.36,329.31 653.16,329.43 653.96,329.56 654.73,329.7 655.49,329.85 656.22,330.02 656.92,330.2 657.6,330.4 658.24,330.6 658.86,330.79 659.45,330.98 660.01,331.18 660.56,331.41 661.08,331.66 661.6,331.96 662.11,332.3 662.6,332.72 663.1,333.2 663.58,333.72 664.05,334.25 664.5,334.8 664.93,335.4 665.36,336.06 665.79,336.79 666.21,337.63 666.63,338.58 667.06,339.66 667.5,340.9 667.95,342.3 668.4,343.86 668.85,345.56 669.3,347.37 669.75,349.28 670.2,351.27 670.65,353.31 671.1,355.4 671.55,357.5 672,359.6 672.45,361.81 672.9,364.2 673.35,366.72 673.8,369.3 674.24,371.89 674.69,374.42 675.13,376.84 675.56,379.08 675.98,381.09 676.4,382.8 676.8,384.28 677.2,385.61 677.58,386.8 677.96,387.84 678.33,388.72 678.7,389.43 679.07,389.97 679.44,390.33 679.82,390.51 680.2,390.5 680.58,390.27 680.97,389.81 681.35,389.14 681.73,388.29 682.11,387.27 682.5,386.12 682.89,384.86 683.29,383.5 683.69,382.07 684.1,380.6 684.51,379 684.93,377.22 685.35,375.29 685.77,373.25 686.2,371.13 686.64,368.97 687.08,366.82 687.54,364.69 688.01,362.64 688.5,360.7 688.99,358.81 689.48,356.91 689.98,355.01 690.49,353.12 691.01,351.27 691.55,349.48 692.11,347.74 692.7,346.09 693.33,344.54 694,343.1 694.75,341.75 695.61,340.47 696.55,339.25 697.52,338.11 698.49,337.05 699.44,336.08 700.33,335.2 701.13,334.42 701.79,333.75 702.3,333.2" fill="none" stroke="#6b6bc6" stroke-width="1.5" stroke-linejoin="round"/>
<text x="638" y="332.5" font-size="3.6" fill="#666" font-family="Liberation Sans">T=28.40</text>
<text x="680" y="394.5" font-size="3.6" fill="#666" font-family="Liberation Sans">C=34.33</text>
</g>
<rect x="611" y="303.9" width="91.4" height="96.1" fill="none" stroke="#000" stroke-width="2"/>
<clipPath id="c6514"><rect x="611" y="415.9" width="91.4" height="96.1"/></clipPath>
<rect x="610" y="414.9" width="93.4" height="98.1" fill="#fff"/>
<g clip-path="url(#c6514)">
<path d="M616 416.9V511M623.2 416.9V511M630.4 416.9V511M637.6 416.9V511M644.8 416.9V511M652 416.9V511M659.2 416.9V511M666.4 416.9V511M673.6 416.9V511M680.8 416.9V511M688 416.9V511M695.2 416.9V511M612 421.4H701.4M612 429H701.4M612 436.6H701.4M612 444.2H701.4M612 451.8H701.4M612 459.4H701.4M612 467H701.4M612 474.6H701.4M612 482.2H701.4M612 489.8H701.4M612 497.4H701.4M612 505H701.4" stroke="#f2f2f5" stroke-width="0.5" fill="none"/>
<polygon points="675.5,440.8 683,441.9 683,491.5 682.53,493.3 682.06,495.04 681.59,496.69 681.12,498.18 680.66,499.46 680.19,500.44 679.72,501.09 679.25,501.37 678.78,501.23 678.31,500.69 677.84,499.75 677.38,498.51 676.91,497.01 676.44,495.29 675.97,493.37 675.5,491.3" fill="#a6dde5"/>
<line x1="683" y1="441.9" x2="692" y2="443" stroke="#d4eef2" stroke-width="0.8"/>
<polyline points="611.9,428.4 612.3,428.45 612.8,428.52 613.39,428.6 614.04,428.69 614.76,428.78 615.54,428.88 616.36,428.97 617.22,429.06 618.1,429.14 619,429.2 619.94,429.25 620.95,429.28 622.01,429.3 623.11,429.32 624.25,429.33 625.41,429.35 626.57,429.37 627.73,429.4 628.88,429.44 630,429.5 631.11,429.58 632.22,429.67 633.33,429.78 634.44,429.9 635.55,430.02 636.66,430.14 637.77,430.27 638.88,430.39 639.99,430.5 641.1,430.6 642.22,430.69 643.36,430.77 644.51,430.84 645.67,430.9 646.81,430.97 647.94,431.04 649.05,431.11 650.11,431.19 651.13,431.29 652.1,431.4 653.02,431.51 653.9,431.62 654.76,431.73 655.58,431.84 656.36,431.97 657.12,432.11 657.84,432.28 658.52,432.48 659.18,432.72 659.8,433 660.38,433.31 660.9,433.63 661.38,433.97 661.82,434.33 662.24,434.73 662.63,435.17 663.02,435.66 663.4,436.21 663.8,436.82 664.2,437.5 664.61,438.22 665.01,438.96 665.41,439.73 665.8,440.54 666.19,441.43 666.57,442.39 666.95,443.45 667.33,444.63 667.72,445.94 668.1,447.4 668.49,449.04 668.87,450.86 669.26,452.82 669.65,454.91 670.03,457.09 670.41,459.33 670.79,461.6 671.17,463.87 671.54,466.11 671.9,468.3 672.25,470.51 672.6,472.82 672.94,475.19 673.27,477.59 673.6,479.97 673.93,482.3 674.26,484.55 674.6,486.67 674.95,488.63 675.3,490.4 675.66,492.04 676.03,493.64 676.41,495.17 676.79,496.6 677.17,497.9 677.55,499.04 677.94,499.99 678.33,500.72 678.71,501.2 679.1,501.4 679.48,501.31 679.87,500.95 680.25,500.35 680.63,499.53 681.01,498.52 681.4,497.34 681.79,496.03 682.19,494.6 682.59,493.08 683,491.5 683.41,489.79 683.83,487.88 684.25,485.8 684.67,483.59 685.1,481.27 685.54,478.9 685.98,476.49 686.44,474.08 686.91,471.71 687.4,469.4 687.89,467.09 688.37,464.71 688.85,462.29 689.33,459.84 689.84,457.4 690.37,455 690.93,452.66 691.53,450.41 692.19,448.28 692.9,446.3 693.72,444.41 694.68,442.56 695.73,440.76 696.83,439.03 697.94,437.41 699.03,435.89 700.05,434.52 700.96,433.3 701.72,432.25 702.3,431.4" fill="none" stroke="#6b6bc6" stroke-width="1.5" stroke-linejoin="round"/>
<text x="638" y="434.5" font-size="3.6" fill="#666" font-family="Liberation Sans">T=28.37</text>
<text x="679" y="505.5" font-size="3.6" fill="#666" font-family="Liberation Sans">C=34.33</text>
</g>
<rect x="611" y="415.9" width="91.4" height="96.1" fill="none" stroke="#000" stroke-width="2"/>
<text x="220.1" y="32.3" text-anchor="middle" font-size="23.6" stroke="#000" stroke-width="0.35">T</text>
<text x="263.7" y="32.3" text-anchor="middle" font-size="23.6" stroke="#000" stroke-width="0.35">C</text>
<text x="355.4" y="32.3" text-anchor="middle" font-size="23.6" stroke="#000" stroke-width="0.35">T</text>
<text x="387.6" y="32.3" text-anchor="middle" font-size="23.6" stroke="#000" stroke-width="0.35">C</text>
<text x="517.6" y="30.9" text-anchor="middle" font-size="23.6" stroke="#000" stroke-width="0.35">T</text>
<text x="550.1" y="30.9" text-anchor="middle" font-size="23.6" stroke="#000" stroke-width="0.35">C</text>
<text x="638.6" y="32.3" text-anchor="middle" font-size="23.6" stroke="#000" stroke-width="0.35">T</text>
<text x="682.1" y="32.3" text-anchor="middle" font-size="23.6" stroke="#000" stroke-width="0.35">C</text>
<rect x="216.5" y="41.2" width="2.8" height="24.1" fill="#000"/><polygon points="211.3,60.3 224.5,60.3 217.9,73.3" fill="#000"/>
<rect x="258.2" y="41.2" width="2.8" height="24.1" fill="#000"/><polygon points="253,60.3 266.2,60.3 259.6,73.3" fill="#000"/>
<rect x="351.8" y="41.2" width="2.8" height="24.1" fill="#000"/><polygon points="346.6,60.3 359.8,60.3 353.2,73.3" fill="#000"/>
<rect x="385.1" y="41.2" width="2.8" height="24.1" fill="#000"/><polygon points="379.9,60.3 393.1,60.3 386.5,73.3" fill="#000"/>
<rect x="514.1" y="41.2" width="2.8" height="24.1" fill="#000"/><polygon points="508.9,60.3 522.1,60.3 515.5,73.3" fill="#000"/>
<rect x="547.6" y="41.2" width="2.8" height="22.3" fill="#000"/><polygon points="542.4,58.5 555.6,58.5 549,71.5" fill="#000"/>
<rect x="635" y="41.2" width="2.8" height="24.1" fill="#000"/><polygon points="629.8,60.3 643,60.3 636.4,73.3" fill="#000"/>
<rect x="678" y="41.2" width="2.8" height="24.1" fill="#000"/><polygon points="672.8,60.3 686,60.3 679.4,73.3" fill="#000"/>
<text x="16.3" y="96" font-size="22.8" fill="#111" stroke="#111" stroke-width="0.25">Virus particles/ml</text>
<text x="712.4" y="92.8" font-size="22.8" fill="#111" stroke="#111" stroke-width="0.25">Virus particles/ml</text>
<text y="138.7" font-size="23" fill="#111" stroke="#111" stroke-width="0.25"><tspan x="88.9">1.0</tspan><tspan x="123.3">x</tspan><tspan x="141.2">10</tspan><tspan x="163.8" dy="-6" font-size="15">7</tspan></text>
<text y="247.7" font-size="23" fill="#111" stroke="#111" stroke-width="0.25"><tspan x="88.6">5.0</tspan><tspan x="123.3">x</tspan><tspan x="141.2">10</tspan><tspan x="163.8" dy="-6" font-size="15">6</tspan></text>
<text y="360.5" font-size="23" fill="#111" stroke="#111" stroke-width="0.25"><tspan x="87.2">2.5</tspan><tspan x="123.3">x</tspan><tspan x="141.2">10</tspan><tspan x="163.8" dy="-6" font-size="15">6</tspan></text>
<text y="471.4" font-size="23" fill="#111" stroke="#111" stroke-width="0.25"><tspan x="87.9">1.0</tspan><tspan x="123.3">x</tspan><tspan x="141.2">10</tspan><tspan x="163.8" dy="-6" font-size="15">6</tspan></text>
<text y="134.5" font-size="23" fill="#111" stroke="#111" stroke-width="0.25"><tspan x="711.9">5.0</tspan><tspan x="747.8">x</tspan><tspan x="765.7">10</tspan><tspan x="788.3" dy="-6" font-size="15">5</tspan></text>
<text y="246" font-size="23" fill="#111" stroke="#111" stroke-width="0.25"><tspan x="712">2.5</tspan><tspan x="747.8">x</tspan><tspan x="765.7">10</tspan><tspan x="788.3" dy="-6" font-size="15">5</tspan></text>
<text y="359.7" font-size="23" fill="#111" stroke="#111" stroke-width="0.25"><tspan x="712.8">1.0</tspan><tspan x="747.8">x</tspan><tspan x="765.7">10</tspan><tspan x="788.3" dy="-6" font-size="15">5</tspan></text>
<text y="474.4" font-size="23" fill="#111" stroke="#111" stroke-width="0.25"><tspan x="712.3">5.0</tspan><tspan x="747.8">x</tspan><tspan x="765.7">10</tspan><tspan x="788.3" dy="-6" font-size="15">4</tspan></text>
<defs><pattern id="dots" width="5" height="5" patternUnits="userSpaceOnUse"><rect width="5" height="5" fill="#e2edf9"/><circle cx="1.25" cy="1.25" r="0.75" fill="#9ac0e8"/><circle cx="3.75" cy="3.75" r="0.75" fill="#9ac0e8"/><circle cx="3.75" cy="1.25" r="0.5" fill="#bdd6f0"/><circle cx="1.25" cy="3.75" r="0.5" fill="#bdd6f0"/></pattern></defs>
<line x1="226.6" y1="549.92" x2="226.6" y2="558.98" stroke="#464646" stroke-width="2.6"/>
<line x1="223.7" y1="550.72" x2="229.5" y2="550.72" stroke="#464646" stroke-width="2"/>
<rect x="215.45" y="559.48" width="22.3" height="321.42" fill="url(#dots)" stroke="#1b74bd" stroke-width="2.5"/>
<text x="226.6" y="904" text-anchor="middle" font-size="15.3" fill="#1a1a1a" stroke="#1a1a1a" stroke-width="0.3">1.0*10^7</text>
<line x1="226.6" y1="881" x2="226.6" y2="883.6" stroke="#1b74bd" stroke-width="1.6"/>
<line x1="296.63" y1="621.69" x2="296.63" y2="641.2" stroke="#464646" stroke-width="2.6"/>
<line x1="293.73" y1="622.49" x2="299.53" y2="622.49" stroke="#464646" stroke-width="2"/>
<rect x="285.48" y="641.7" width="22.3" height="239.2" fill="url(#dots)" stroke="#1b74bd" stroke-width="2.5"/>
<text x="296.63" y="904" text-anchor="middle" font-size="15.3" fill="#1a1a1a" stroke="#1a1a1a" stroke-width="0.3">5.0*10^6</text>
<line x1="296.63" y1="881" x2="296.63" y2="883.6" stroke="#1b74bd" stroke-width="1.6"/>
<line x1="366.66" y1="685.1" x2="366.66" y2="695.55" stroke="#464646" stroke-width="2.6"/>
<line x1="363.76" y1="685.9" x2="369.56" y2="685.9" stroke="#464646" stroke-width="2"/>
<rect x="355.51" y="696.05" width="22.3" height="184.85" fill="url(#dots)" stroke="#1b74bd" stroke-width="2.5"/>
<text x="366.66" y="904" text-anchor="middle" font-size="15.3" fill="#1a1a1a" stroke="#1a1a1a" stroke-width="0.3">2.5*10^6</text>
<line x1="366.66" y1="881" x2="366.66" y2="883.6" stroke="#1b74bd" stroke-width="1.6"/>
<line x1="436.69" y1="755.48" x2="436.69" y2="757.57" stroke="#464646" stroke-width="2.6"/>
<line x1="433.79" y1="756.28" x2="439.59" y2="756.28" stroke="#464646" stroke-width="2"/>
<rect x="425.54" y="758.07" width="22.3" height="122.83" fill="url(#dots)" stroke="#1b74bd" stroke-width="2.5"/>
<text x="436.69" y="904" text-anchor="middle" font-size="15.3" fill="#1a1a1a" stroke="#1a1a1a" stroke-width="0.3">1.0*10^6</text>
<line x1="436.69" y1="881" x2="436.69" y2="883.6" stroke="#1b74bd" stroke-width="1.6"/>
<line x1="506.72" y1="816.79" x2="506.72" y2="821.95" stroke="#464646" stroke-width="2.6"/>
<line x1="503.82" y1="817.59" x2="509.62" y2="817.59" stroke="#464646" stroke-width="2"/>
<rect x="495.57" y="822.45" width="22.3" height="58.45" fill="url(#dots)" stroke="#1b74bd" stroke-width="2.5"/>
<text x="506.72" y="904" text-anchor="middle" font-size="15.3" fill="#1a1a1a" stroke="#1a1a1a" stroke-width="0.3">5.0*10^5</text>
<line x1="506.72" y1="881" x2="506.72" y2="883.6" stroke="#1b74bd" stroke-width="1.6"/>
<line x1="576.75" y1="863.48" x2="576.75" y2="870.03" stroke="#464646" stroke-width="2.6"/>
<line x1="573.85" y1="864.28" x2="579.65" y2="864.28" stroke="#464646" stroke-width="2"/>
<rect x="565.6" y="870.53" width="22.3" height="10.37" fill="url(#dots)" stroke="#1b74bd" stroke-width="2.5"/>
<text x="576.75" y="904" text-anchor="middle" font-size="15.3" fill="#1a1a1a" stroke="#1a1a1a" stroke-width="0.3">2.5*10^5</text>
<line x1="576.75" y1="881" x2="576.75" y2="883.6" stroke="#1b74bd" stroke-width="1.6"/>
<line x1="646.78" y1="858.88" x2="646.78" y2="868.78" stroke="#464646" stroke-width="2.6"/>
<line x1="643.88" y1="859.68" x2="649.68" y2="859.68" stroke="#464646" stroke-width="2"/>
<rect x="635.63" y="869.28" width="22.3" height="11.62" fill="url(#dots)" stroke="#1b74bd" stroke-width="2.5"/>
<text x="646.78" y="904" text-anchor="middle" font-size="15.3" fill="#1a1a1a" stroke="#1a1a1a" stroke-width="0.3">1.0*10^5</text>
<line x1="646.78" y1="881" x2="646.78" y2="883.6" stroke="#1b74bd" stroke-width="1.6"/>
<line x1="716.81" y1="878.81" x2="716.81" y2="879.16" stroke="#464646" stroke-width="2.6"/>
<line x1="713.91" y1="879.61" x2="719.71" y2="879.61" stroke="#464646" stroke-width="2"/>
<rect x="705.66" y="879.66" width="22.3" height="1.24" fill="url(#dots)" stroke="#1b74bd" stroke-width="2.5"/>
<text x="716.81" y="904" text-anchor="middle" font-size="15.3" fill="#1a1a1a" stroke="#1a1a1a" stroke-width="0.3">5.0*10^4</text>
<line x1="716.81" y1="881" x2="716.81" y2="883.6" stroke="#1b74bd" stroke-width="1.6"/>
<line x1="191.2" y1="531.8" x2="191.2" y2="881.9" stroke="#1b74bd" stroke-width="2"/>
<line x1="190.2" y1="880.9" x2="754" y2="880.9" stroke="#1b74bd" stroke-width="2"/>
<line x1="186.7" y1="880.9" x2="191.2" y2="880.9" stroke="#1b74bd" stroke-width="2"/>
<text x="178.2" y="885.5" text-anchor="end" font-size="15.5" font-weight="bold" fill="#2d7bc0">0</text>
<line x1="186.7" y1="846.06" x2="191.2" y2="846.06" stroke="#1b74bd" stroke-width="2"/>
<text x="178.2" y="850.66" text-anchor="end" font-size="15.5" font-weight="bold" fill="#2d7bc0">50</text>
<line x1="186.7" y1="811.22" x2="191.2" y2="811.22" stroke="#1b74bd" stroke-width="2"/>
<text x="178.2" y="815.82" text-anchor="end" font-size="15.5" font-weight="bold" fill="#2d7bc0">100</text>
<line x1="186.7" y1="776.38" x2="191.2" y2="776.38" stroke="#1b74bd" stroke-width="2"/>
<text x="178.2" y="780.98" text-anchor="end" font-size="15.5" font-weight="bold" fill="#2d7bc0">150</text>
<line x1="186.7" y1="741.54" x2="191.2" y2="741.54" stroke="#1b74bd" stroke-width="2"/>
<text x="178.2" y="746.14" text-anchor="end" font-size="15.5" font-weight="bold" fill="#2d7bc0">200</text>
<line x1="186.7" y1="706.7" x2="191.2" y2="706.7" stroke="#1b74bd" stroke-width="2"/>
<text x="178.2" y="711.3" text-anchor="end" font-size="15.5" font-weight="bold" fill="#2d7bc0">250</text>
<line x1="186.7" y1="671.86" x2="191.2" y2="671.86" stroke="#1b74bd" stroke-width="2"/>
<text x="178.2" y="676.46" text-anchor="end" font-size="15.5" font-weight="bold" fill="#2d7bc0">300</text>
<line x1="186.7" y1="637.02" x2="191.2" y2="637.02" stroke="#1b74bd" stroke-width="2"/>
<text x="178.2" y="641.62" text-anchor="end" font-size="15.5" font-weight="bold" fill="#2d7bc0">350</text>
<line x1="186.7" y1="602.18" x2="191.2" y2="602.18" stroke="#1b74bd" stroke-width="2"/>
<text x="178.2" y="606.78" text-anchor="end" font-size="15.5" font-weight="bold" fill="#2d7bc0">400</text>
<line x1="186.7" y1="567.34" x2="191.2" y2="567.34" stroke="#1b74bd" stroke-width="2"/>
<text x="178.2" y="571.94" text-anchor="end" font-size="15.5" font-weight="bold" fill="#2d7bc0">450</text>
<line x1="186.7" y1="532.5" x2="191.2" y2="532.5" stroke="#1b74bd" stroke-width="2"/>
<text x="178.2" y="537.1" text-anchor="end" font-size="15.5" font-weight="bold" fill="#2d7bc0">500</text>
<text transform="translate(125.7,697.5) rotate(-90)" text-anchor="middle" font-size="15.4" font-weight="bold" fill="#2d7bc0">T-line signal intensity (mAU)</text>
<text x="400.2" y="938.5" font-size="15.4" font-weight="bold" fill="#111">Virus titer (Virus particles.ml<tspan dy="-5.5" font-size="9.5">-1</tspan><tspan dy="5.5">)</tspan></text>
<rect x="0" y="516.1" width="20.8" height="20.6" fill="#1e1c1e"/>
<text x="11.1" y="533" text-anchor="middle" font-family="Liberation Sans" font-size="20" fill="#fff">a</text>
<rect x="0" y="940.1" width="20.7" height="22" fill="#1e1c1e"/>
<text x="11.3" y="957" text-anchor="middle" font-family="Liberation Sans" font-size="19.5" fill="#fff">b</text>
<rect x="0.5" y="0.5" width="889" height="961" fill="none" stroke="#111" stroke-width="1.2"/>
</svg>
</body></html>
